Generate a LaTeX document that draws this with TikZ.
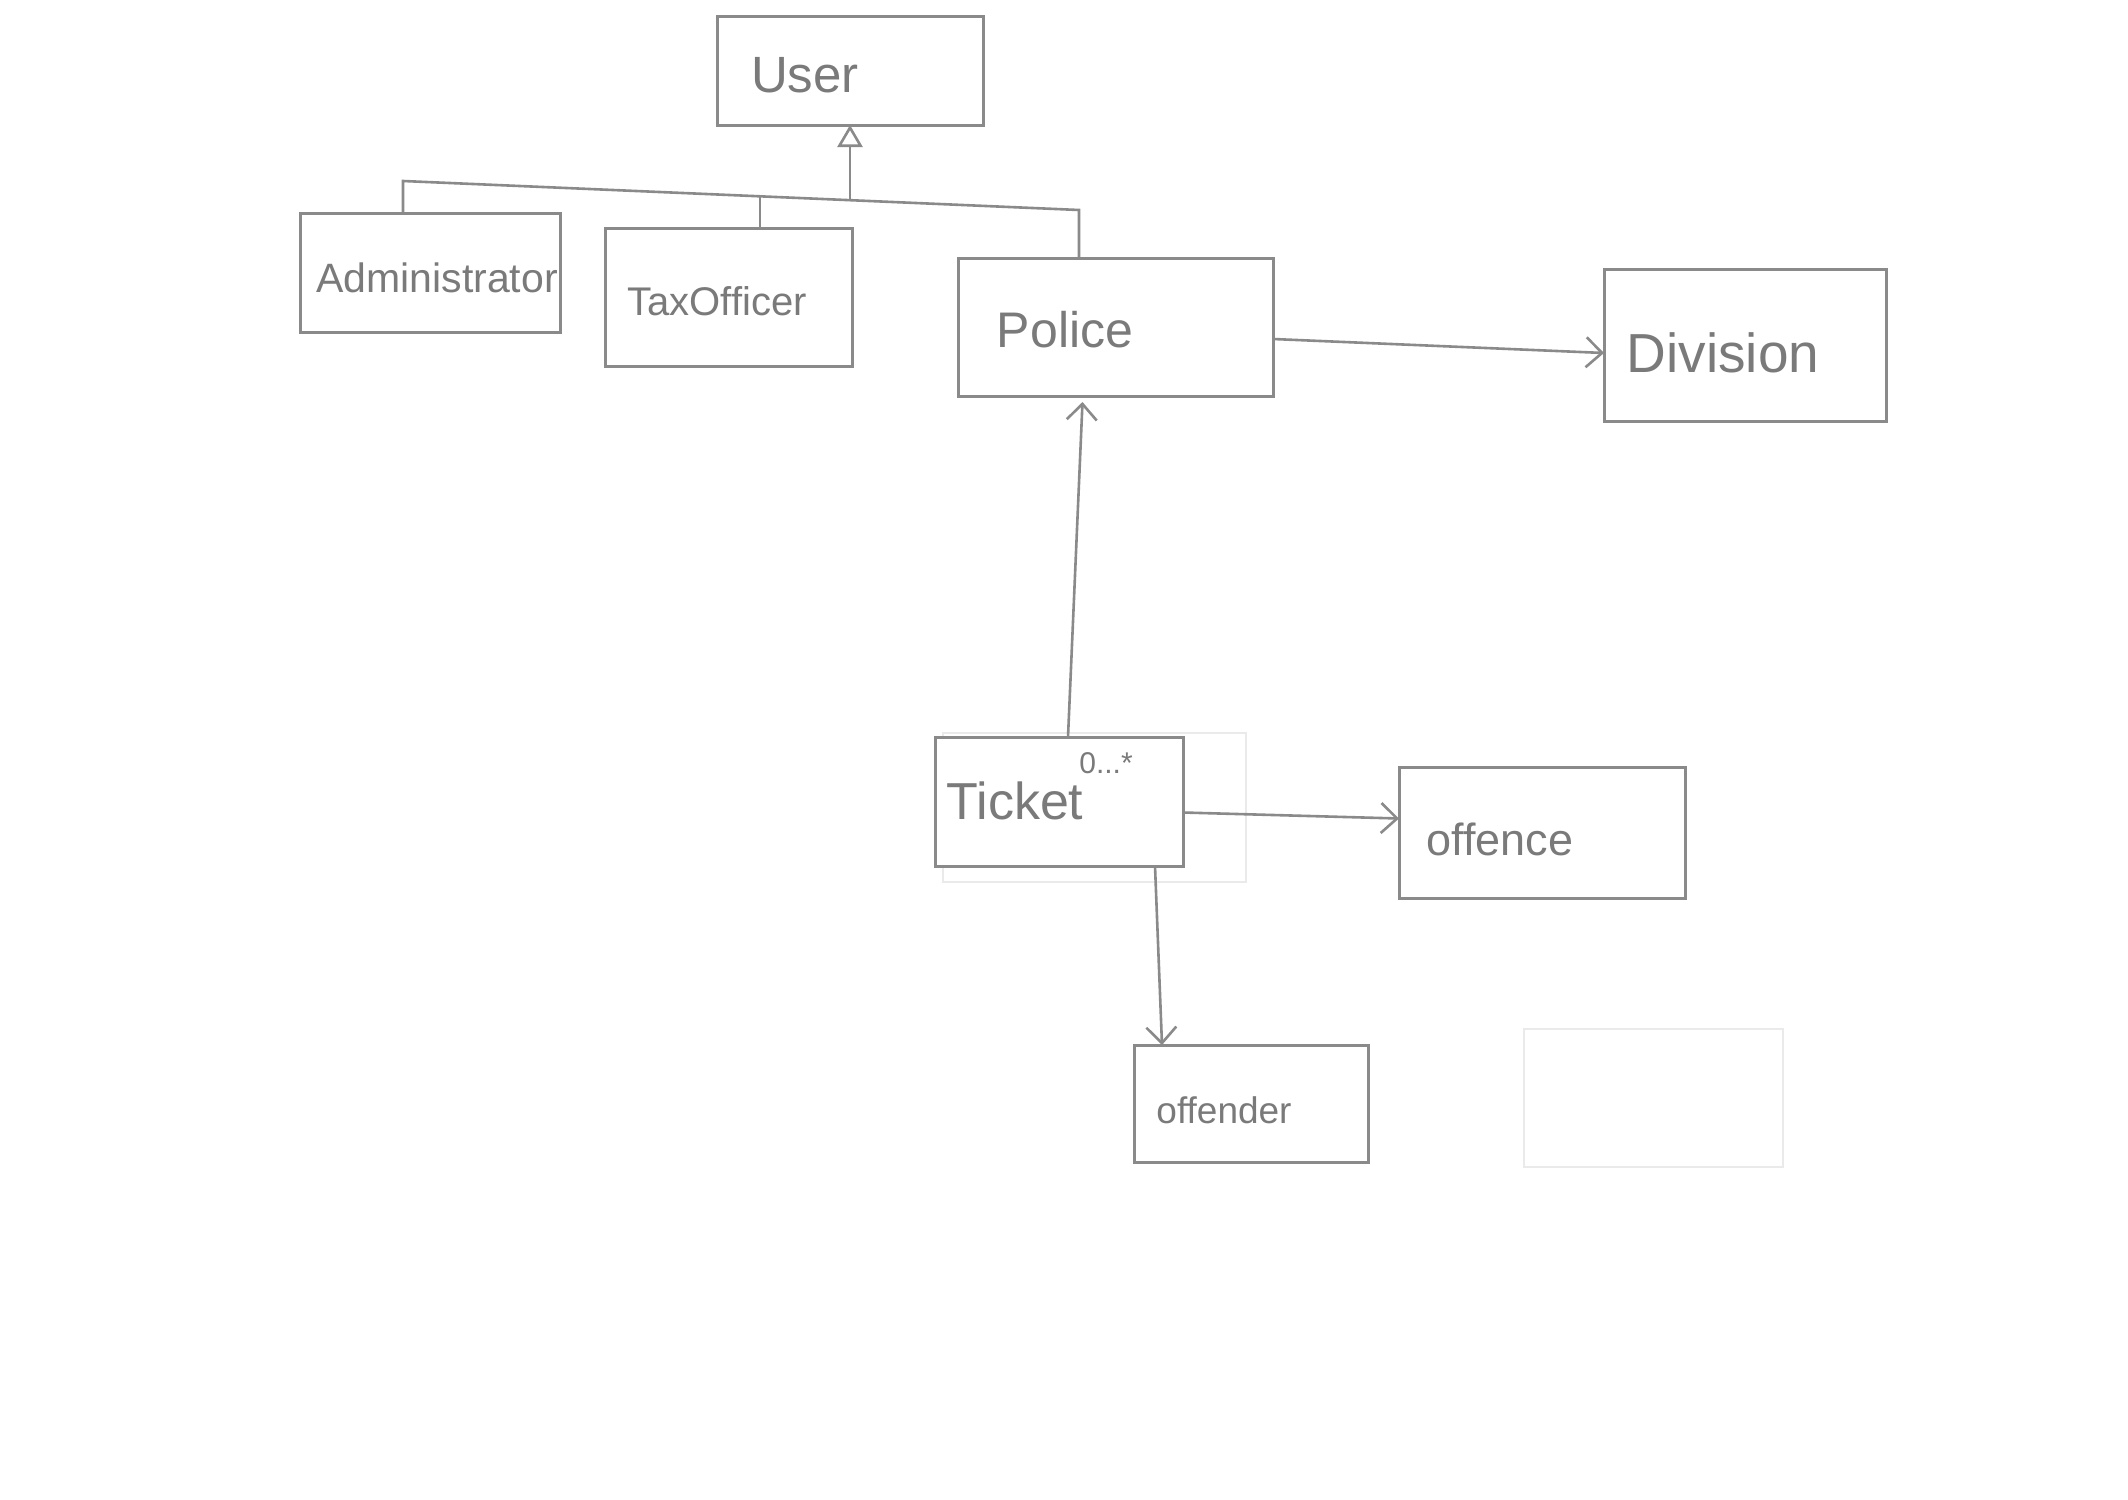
\documentclass[tikz,border=0pt]{standalone}
\usepackage{fontspec}
\setmainfont{Liberation Sans}
\usetikzlibrary{arrows.meta,calc}
\definecolor{pencil}{HTML}{8A8A8A}
\definecolor{pencilText}{HTML}{7A7A7A}
\definecolor{erased}{HTML}{EAEAEA}
\tikzset{
  classbox/.style={draw=pencil, line width=3pt, inner sep=0pt, outer sep=0pt},
  faintbox/.style={draw=erased, line width=2pt, inner sep=0pt, outer sep=0pt},
  lbl/.style={text=pencilText, inner sep=0pt, anchor=center},
  link/.style={draw=pencil, line width=2.6pt},
  assoc/.style={link, -{Straight Barb[length=16pt, width=30pt, line width=2.6pt]}},
  gen/.style={link, -{Triangle[open, length=22pt, width=25pt, line width=2.6pt]}},
}
\begin{document}
\begin{tikzpicture}[x=1pt, y=-1pt]
\useasboundingbox (0,0) rectangle (2128,1499);
\fill[white] (0,0) rectangle (2128,1499);

% erased sketches left on the sheet
\node[faintbox, minimum width=303pt, minimum height=149pt] (oldticket) at (1094.5,807.5) {};
\node[faintbox, minimum width=259pt, minimum height=138pt] (oldbox) at (1653.5,1098) {};

% classes
\node[classbox, minimum width=266pt, minimum height=109pt] (user) at (850,70.5) {};
\node[classbox, minimum width=260pt, minimum height=119pt] (admin) at (430,272.5) {};
\node[classbox, minimum width=247pt, minimum height=138pt] (tax) at (728.5,297) {};
\node[classbox, minimum width=315pt, minimum height=138pt] (police) at (1115.5,327) {};
\node[classbox, minimum width=282pt, minimum height=152pt] (division) at (1745,345) {};
\node[classbox, fill=white, minimum width=248pt, minimum height=129pt] (ticket) at (1059,801.5) {};
\node[classbox, minimum width=286pt, minimum height=131pt] (offence) at (1542,832.5) {};
\node[classbox, minimum width=234pt, minimum height=117pt] (offender) at (1251,1103.5) {};

% class names
\node[lbl, font=\fontsize{51}{51}\selectfont] (userT) at (805,75) {User};
\node[lbl, font=\fontsize{41}{41}\selectfont] (adminT) at (437,278) {Administrator};
\node[lbl, font=\fontsize{40}{40}\selectfont] (taxT) at (717,301) {TaxOfficer};
\node[lbl, font=\fontsize{50}{50}\selectfont] (policeT) at (1065,330) {Police};
\node[lbl, font=\fontsize{55}{55}\selectfont] (divisionT) at (1723,353) {Division};
\node[lbl, font=\fontsize{52}{52}\selectfont] (ticketT) at (1015,801) {Ticket};
\node[lbl, font=\fontsize{45}{45}\selectfont] (offenceT) at (1500,839) {offence};
\node[lbl, font=\fontsize{37}{37}\selectfont] (offenderT) at (1224,1110) {offender};
\node[lbl, font=\fontsize{30}{30}\selectfont] (multT) at (1106,763) {0...*};

% generalisation tree
\coordinate (busL) at (403,181);
\coordinate (busR) at (1079,210);
\coordinate (jTax) at (760,196);
\coordinate (jUser) at (850,200);
\draw[link] (admin.north -| busL) -- (busL) -- (busR) -- (police.north -| busR);
\draw[link] (jTax) -- (tax.north -| jTax);
\draw[gen] (jUser) -- (user.south -| jUser);

% associations
\draw[assoc] ([yshift=-12pt]police.east) -- ([yshift=-8pt]division.west);
\draw[assoc] ([xshift=9pt]ticket.north) -- ([xshift=-33pt, yshift=-6pt]police.south);
\draw[assoc] ([yshift=-11pt]ticket.east) -- ([yshift=14pt]offence.west);
\draw[assoc] ([xshift=96pt]ticket.south) -- ([xshift=-89pt]offender.north);
\end{tikzpicture}
\end{document}
